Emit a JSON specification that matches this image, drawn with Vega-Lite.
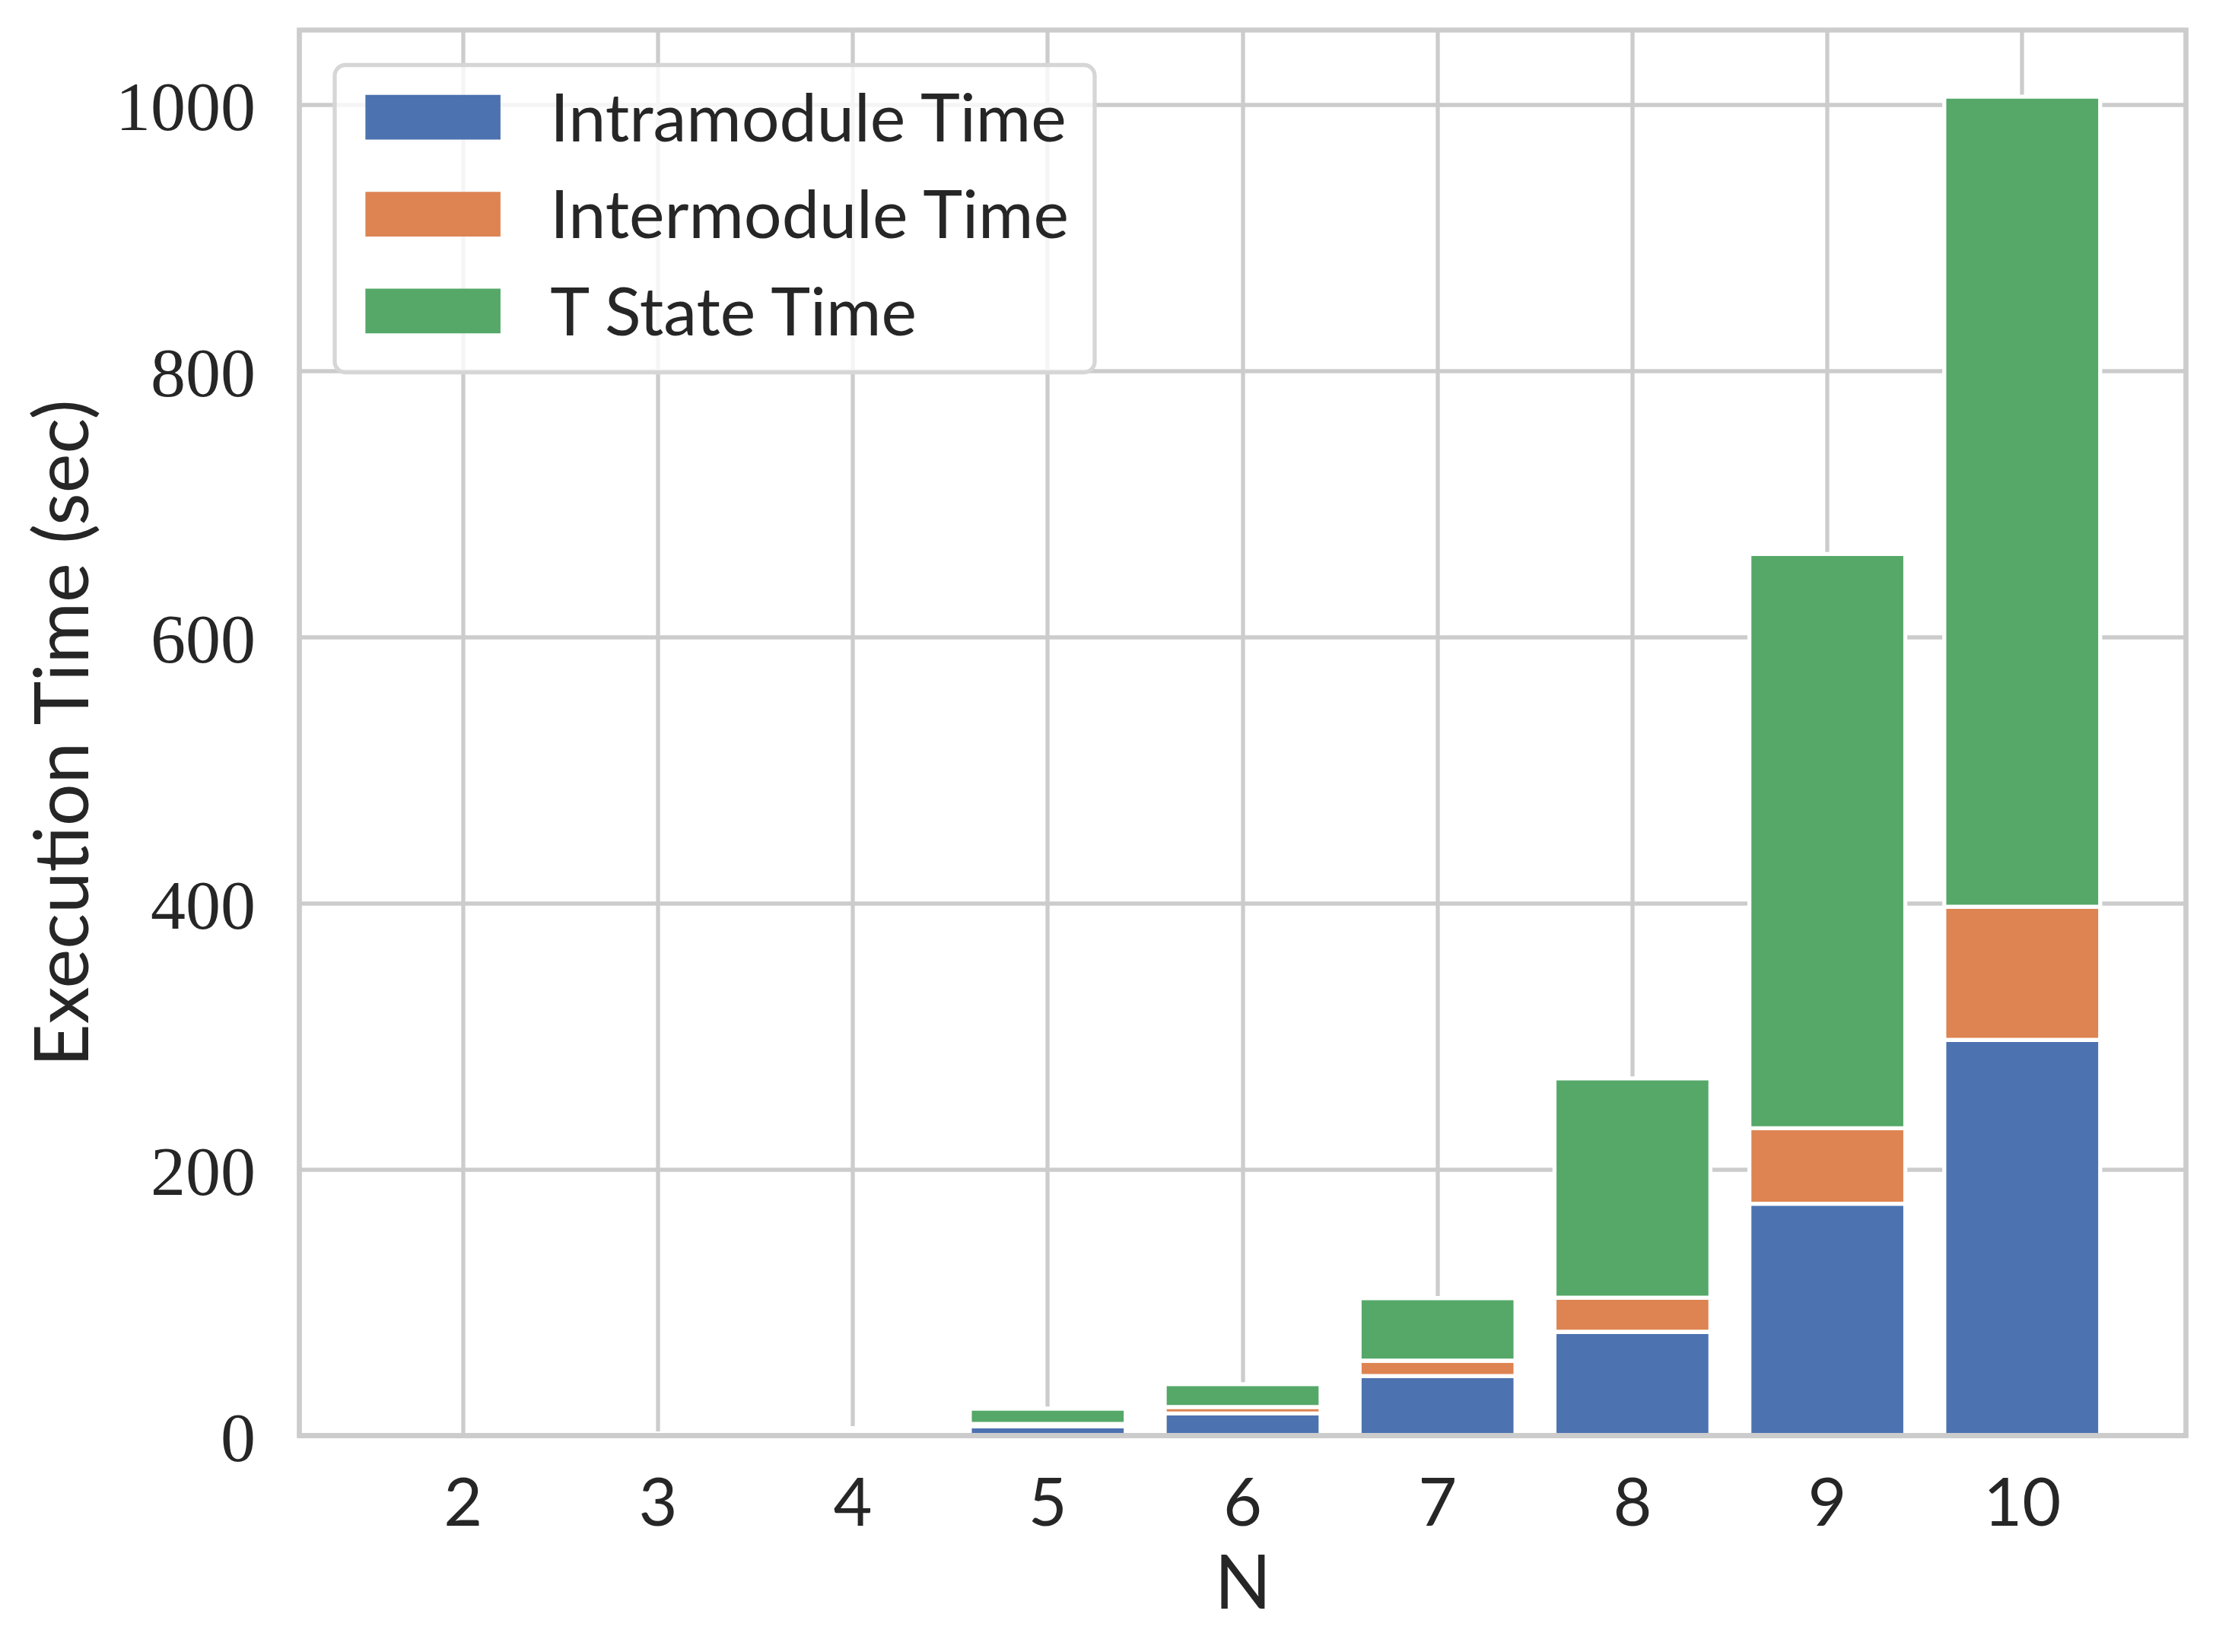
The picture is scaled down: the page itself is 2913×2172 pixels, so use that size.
{
  "$schema": "https://vega.github.io/schema/vega-lite/v6.json",
  "width": 2480,
  "height": 1848,
  "autosize": {"type": "none"},
  "padding": {"left": 393.5, "top": 39.5, "right": 39.5, "bottom": 284.5},
  "background": "white",
  "config": {
    "view": {"stroke": "#cccccc", "strokeWidth": 6.7},
    "axis": {
      "gridColor": "#cccccc",
      "gridWidth": 5.3,
      "domain": false,
      "ticks": false,
      "tickSize": 0,
      "labelColor": "#262626",
      "titleColor": "#262626",
      "titleFontWeight": "normal"
    },
    "legend": {"strokeWidth": 5.3}
  },
  "data": {
    "values": [
      {"N": 2, "series": "Intramodule Time", "s": 0, "t": 0.1},
      {"N": 3, "series": "Intramodule Time", "s": 0, "t": 0.5},
      {"N": 4, "series": "Intramodule Time", "s": 0, "t": 2.2},
      {"N": 5, "series": "Intramodule Time", "s": 0, "t": 6.9},
      {"N": 6, "series": "Intramodule Time", "s": 0, "t": 16.7},
      {"N": 7, "series": "Intramodule Time", "s": 0, "t": 44.8},
      {"N": 8, "series": "Intramodule Time", "s": 0, "t": 78.0},
      {"N": 9, "series": "Intramodule Time", "s": 0, "t": 174.2},
      {"N": 10, "series": "Intramodule Time", "s": 0, "t": 297.3},
      {"N": 2, "series": "Intermodule Time", "s": 1, "t": 0.05},
      {"N": 3, "series": "Intermodule Time", "s": 1, "t": 0.3},
      {"N": 4, "series": "Intermodule Time", "s": 1, "t": 0.8},
      {"N": 5, "series": "Intermodule Time", "s": 1, "t": 1.9},
      {"N": 6, "series": "Intermodule Time", "s": 1, "t": 4.8},
      {"N": 7, "series": "Intermodule Time", "s": 1, "t": 11.5},
      {"N": 8, "series": "Intermodule Time", "s": 1, "t": 25.7},
      {"N": 9, "series": "Intermodule Time", "s": 1, "t": 56.7},
      {"N": 10, "series": "Intermodule Time", "s": 1, "t": 100.1},
      {"N": 2, "series": "T State Time", "s": 2, "t": 0.1},
      {"N": 3, "series": "T State Time", "s": 2, "t": 0.8},
      {"N": 4, "series": "T State Time", "s": 2, "t": 2.6},
      {"N": 5, "series": "T State Time", "s": 2, "t": 11.5},
      {"N": 6, "series": "T State Time", "s": 2, "t": 17.1},
      {"N": 7, "series": "T State Time", "s": 2, "t": 47.0},
      {"N": 8, "series": "T State Time", "s": 2, "t": 164.7},
      {"N": 9, "series": "T State Time", "s": 2, "t": 431.5},
      {"N": 10, "series": "T State Time", "s": 2, "t": 608.5}
    ]
  },
  "layer": [
    {
      "mark": {"type": "bar", "stroke": "white", "strokeWidth": 5.3, "opacity": 1},
      "encoding": {
        "x": {
          "field": "N",
          "type": "ordinal",
          "scale": {"paddingInner": 0.2, "paddingOuter": 0.44},
          "axis": {
            "title": "N",
            "titleFont": "Lato",
            "titleFontSize": 98,
            "titleBaseline": "alphabetic",
            "titleY": 226.5,
            "labelFont": "Lato",
            "labelFontSize": 88,
            "labelAngle": 0,
            "labelBaseline": "alphabetic",
            "labelPadding": 117.5,
            "bandPosition": 0.5,
            "grid": true
          }
        },
        "y": {
          "field": "t",
          "type": "quantitative",
          "stack": "zero",
          "scale": {"domain": [0, 1056], "nice": false, "zero": true},
          "axis": {
            "title": "Execution Time (sec)",
            "titleFont": "Lato",
            "titleFontSize": 98,
            "titleBaseline": "alphabetic",
            "titleAngle": -90,
            "titleX": -278.5,
            "titleY": 924,
            "values": [0, 200, 400, 600, 800, 1000],
            "format": "d",
            "labelFont": "Liberation Serif",
            "labelFontSize": 92,
            "labelLimit": 0,
            "labelBaseline": "alphabetic",
            "labelOffset": 33,
            "labelPadding": 58,
            "grid": true
          }
        },
        "color": {
          "field": "series",
          "type": "nominal",
          "scale": {
            "domain": ["Intramodule Time", "Intermodule Time", "T State Time"],
            "range": ["#4C72B0", "#DD8452", "#55A868"]
          },
          "legend": {
            "title": null,
            "orient": "none",
            "legendX": 46.5,
            "legendY": 46,
            "padding": 30.5,
            "fillColor": "rgba(255,255,255,0.8)",
            "strokeColor": "#d6d6d6",
            "cornerRadius": 14,
            "symbolType": "M-1,-1.2H5.05V0.8H-1Z",
            "symbolSize": 3446,
            "symbolStrokeWidth": 0,
            "symbolOpacity": 1,
            "symbolOffset": -4.8,
            "labelOffset": 169.5,
            "labelFont": "Lato",
            "labelFontSize": 88,
            "labelColor": "#262626",
            "labelLimit": 0,
            "rowPadding": 39.4
          }
        },
        "order": {"field": "s", "type": "quantitative", "sort": "ascending"}
      }
    },
    {
      "mark": {"type": "rule", "color": "#cccccc", "strokeWidth": 6.7},
      "encoding": {"y": {"datum": 0}}
    }
  ]
}
